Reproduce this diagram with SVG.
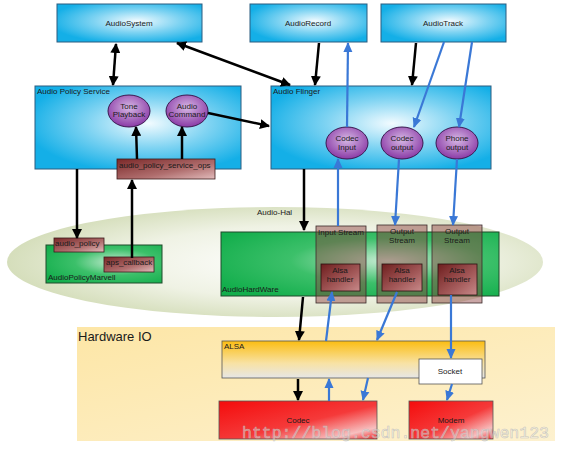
<svg xmlns="http://www.w3.org/2000/svg" width="562" height="451" viewBox="0 0 562 451">
<style>
text{font-family:"Liberation Sans",Arial,sans-serif;font-size:8px;fill:#1a1a1a}
.c{text-anchor:middle}
.blue{fill:url(#gBlue);stroke:#2b5d80;stroke-width:1}
.ell{fill:url(#gPurple);stroke:#3b1850;stroke-width:1}
.brown{fill:url(#gBrown);stroke:#3a1a1a;stroke-width:0.8}
.green{fill:url(#gGreen);stroke:#1f4a2a;stroke-width:1}
.stream{fill:#8a3a3a;fill-opacity:0.45;stroke:#3a2a2a;stroke-width:0.8}
.handler{fill:url(#gHandler);stroke:#2a1010;stroke-width:0.8}
.k{stroke:#000;stroke-width:2.5;fill:none;marker-end:url(#ak)}
.kk{stroke:#000;stroke-width:2.5;fill:none;marker-end:url(#ak);marker-start:url(#ak)}
.b{stroke:#3a78d6;stroke-width:2.2;fill:none;marker-end:url(#ab)}
</style>
<defs>
<marker id="ak" viewBox="0 0 10 10" refX="9" refY="5" markerWidth="10" markerHeight="10" markerUnits="userSpaceOnUse" orient="auto-start-reverse"><path d="M0,0 L10,5 L0,10 z" fill="#000"/></marker>
<marker id="ab" viewBox="0 0 10 10" refX="9" refY="5" markerWidth="10" markerHeight="10" markerUnits="userSpaceOnUse" orient="auto-start-reverse"><path d="M0,0.5 L10,5 L0,9.5 z" fill="#3a78d6"/></marker>
<radialGradient id="gBlue" cx="0.55" cy="0.45" r="0.6"><stop offset="0" stop-color="#f2fbff"/><stop offset="0.5" stop-color="#7ed3f2"/><stop offset="1" stop-color="#14afe7"/></radialGradient>
<radialGradient id="gPurple" cx="0.5" cy="0.4" r="0.6"><stop offset="0" stop-color="#d6b8e4"/><stop offset="1" stop-color="#8a3aa6"/></radialGradient>
<linearGradient id="gBrown" x1="0" y1="0" x2="1" y2="1"><stop offset="0" stop-color="#7a2828"/><stop offset="0.6" stop-color="#b06e6e"/><stop offset="1" stop-color="#e2bcbc"/></linearGradient>
<linearGradient id="gHandler" x1="0" y1="0" x2="1" y2="1"><stop offset="0" stop-color="#6e1e1e"/><stop offset="0.6" stop-color="#a45a5a"/><stop offset="1" stop-color="#c88a8a"/></linearGradient>
<radialGradient id="gGreen" cx="0.6" cy="0.45" r="0.7"><stop offset="0" stop-color="#c8ecd4"/><stop offset="0.5" stop-color="#3cc06a"/><stop offset="1" stop-color="#13ae4c"/></radialGradient>
<radialGradient id="gHal" cx="0.55" cy="0.5" r="0.55"><stop offset="0" stop-color="#ffffff"/><stop offset="0.6" stop-color="#eff2e4"/><stop offset="1" stop-color="#d5debb"/></radialGradient>
<linearGradient id="gHw" x1="0" y1="0" x2="1" y2="1"><stop offset="0" stop-color="#fde6a6"/><stop offset="1" stop-color="#fdf1cf"/></linearGradient>
<linearGradient id="gAlsa" x1="0" y1="0" x2="0" y2="1"><stop offset="0" stop-color="#fbbd12"/><stop offset="0.6" stop-color="#f8e2a4"/><stop offset="1" stop-color="#e6e6e6"/></linearGradient>
<linearGradient id="gRed" x1="0" y1="0" x2="1" y2="1"><stop offset="0" stop-color="#f40c0c"/><stop offset="0.55" stop-color="#f53a3a"/><stop offset="0.85" stop-color="#f7c0c0"/><stop offset="1" stop-color="#f02020"/></linearGradient>
</defs>

<g id="hardware-io">
<rect x="77" y="327" width="478" height="114" fill="url(#gHw)"/>
<text x="78" y="341" style="font-size:13px">Hardware IO</text>
</g>

<g id="audio-hal">
<ellipse cx="275" cy="262" rx="268" ry="55" fill="url(#gHal)"/>
<text x="257" y="215">Audio-Hal</text>
</g>

<g id="audiosystem"><rect class="blue" x="57" y="4" width="145" height="38"/><text class="c" x="129" y="26">AudioSystem</text></g>
<g id="audiorecord"><rect class="blue" x="250" y="4" width="117" height="38"/><text class="c" x="308" y="26">AudioRecord</text></g>
<g id="audiotrack"><rect class="blue" x="381" y="4" width="125" height="38"/><text class="c" x="443" y="26">AudioTrack</text></g>

<g id="audio-policy-service"><rect class="blue" x="35" y="86" width="206" height="83"/><text x="37" y="94">Audio Policy Service</text></g>
<g id="tone-playback"><ellipse class="ell" cx="129" cy="111" rx="21" ry="16"/><text class="c" x="129" y="109">Tone</text><text class="c" x="129" y="117">Playback</text></g>
<g id="audio-command"><ellipse class="ell" cx="187" cy="111" rx="21" ry="16"/><text class="c" x="187" y="109">Audio</text><text class="c" x="187" y="117">Command</text></g>
<g id="audio-policy-service-ops"><rect class="brown" x="117" y="159" width="98" height="20"/><text x="119" y="168">audio_policy_service_ops</text></g>

<g id="audio-flinger"><rect class="blue" x="271" y="86" width="220" height="83"/><text x="273" y="94">Audio Flinger</text></g>
<g id="codec-input"><ellipse class="ell" cx="347" cy="143" rx="21" ry="16"/><text class="c" x="347" y="141">Codec</text><text class="c" x="347" y="150">Input</text></g>
<g id="codec-output"><ellipse class="ell" cx="402" cy="143" rx="21" ry="16"/><text class="c" x="402" y="141">Codec</text><text class="c" x="402" y="150">output</text></g>
<g id="phone-output"><ellipse class="ell" cx="457" cy="143" rx="21" ry="16"/><text class="c" x="457" y="141">Phone</text><text class="c" x="457" y="150">output</text></g>

<g id="audiopolicymarvell"><rect class="green" x="46" y="245" width="116" height="38"/><text x="48" y="280">AudioPolicyMarvell</text></g>
<g id="audio-policy"><rect class="brown" x="54" y="238" width="50" height="14"/><text x="55" y="246">audio_policy</text></g>
<g id="aps-callback"><rect class="brown" x="104" y="257" width="50" height="15"/><text x="106" y="265">aps_callback</text></g>

<g id="audiohardware"><rect class="green" x="221" y="232" width="278" height="64"/><text x="222" y="292">AudioHardWare</text></g>
<g id="input-stream"><rect class="stream" x="316" y="226" width="50" height="77"/><text class="c" x="341" y="235">Input Stream</text>
<rect class="handler" x="321" y="264" width="39" height="27"/><text class="c" x="340" y="273">Alsa</text><text class="c" x="340" y="282">handler</text></g>
<g id="output-stream-1"><rect class="stream" x="377" y="225" width="50" height="78"/><text class="c" x="402" y="234">Output</text><text class="c" x="402" y="243">Stream</text>
<rect class="handler" x="382" y="264" width="40" height="27"/><text class="c" x="402" y="273">Alsa</text><text class="c" x="402" y="282">handler</text></g>
<g id="output-stream-2"><rect class="stream" x="432" y="225" width="50" height="78"/><text class="c" x="457" y="234">Output</text><text class="c" x="457" y="243">Stream</text>
<rect class="handler" x="438" y="264" width="39" height="31"/><text class="c" x="457" y="273">Alsa</text><text class="c" x="457" y="282">handler</text></g>

<g id="alsa"><rect x="222" y="341" width="263" height="37" fill="url(#gAlsa)" stroke="#555" stroke-width="0.8"/><text x="224" y="349">ALSA</text></g>
<g id="socket"><rect x="419" y="359" width="63" height="25" fill="#fff" stroke="#555" stroke-width="0.8"/><text class="c" x="450" y="374">Socket</text></g>
<g id="codec"><rect x="219" y="401" width="158" height="38" fill="url(#gRed)" stroke="#555" stroke-width="0.8"/><text class="c" x="298" y="423">Codec</text></g>
<g id="modem"><rect x="409" y="401" width="84" height="38" fill="url(#gRed)" stroke="#555" stroke-width="0.8"/><text class="c" x="451" y="423">Modem</text></g>

<g id="connectors">
<line class="kk" x1="116" y1="44" x2="113" y2="85"/>
<line class="kk" x1="177" y1="43" x2="290" y2="85"/>
<line class="k" x1="208" y1="113" x2="269" y2="126"/>
<line class="k" x1="319" y1="43" x2="315" y2="85"/>
<line class="k" x1="416" y1="43" x2="412" y2="85"/>
<line class="k" x1="137" y1="159" x2="136" y2="127"/>
<line class="k" x1="182" y1="159" x2="182" y2="127"/>
<line class="k" x1="77" y1="169" x2="77" y2="238"/>
<line class="k" x1="132" y1="258" x2="132" y2="180"/>
<line class="k" x1="304" y1="169" x2="304" y2="230"/>
<line class="k" x1="303" y1="297" x2="299" y2="340"/>
<line class="k" x1="298" y1="379" x2="298" y2="400"/>
<line class="b" x1="347" y1="127" x2="348" y2="43"/>
<line class="b" x1="444" y1="42" x2="414" y2="127"/>
<line class="b" x1="472" y1="42" x2="459" y2="127"/>
<line class="b" x1="338" y1="226" x2="338" y2="159"/>
<line class="b" x1="399" y1="159" x2="395" y2="225"/>
<line class="b" x1="457" y1="159" x2="453" y2="225"/>
<line class="b" x1="326" y1="341" x2="332" y2="292"/>
<line class="b" x1="397" y1="292" x2="377" y2="340"/>
<line class="b" x1="451" y1="295" x2="451" y2="358"/>
<line class="b" x1="329" y1="401" x2="329" y2="379"/>
<line class="b" x1="368" y1="378" x2="363" y2="400"/>
<line class="b" x1="452" y1="384" x2="447" y2="400"/>
</g>

<text x="242" y="438" style="font-family:'Liberation Mono',monospace;font-size:16.5px;fill:#ffffff;fill-opacity:0.35;stroke:#b8b8b8;stroke-width:0.6;stroke-opacity:0.8">http://blog.csdn.net/yangwen123</text>
</svg>
